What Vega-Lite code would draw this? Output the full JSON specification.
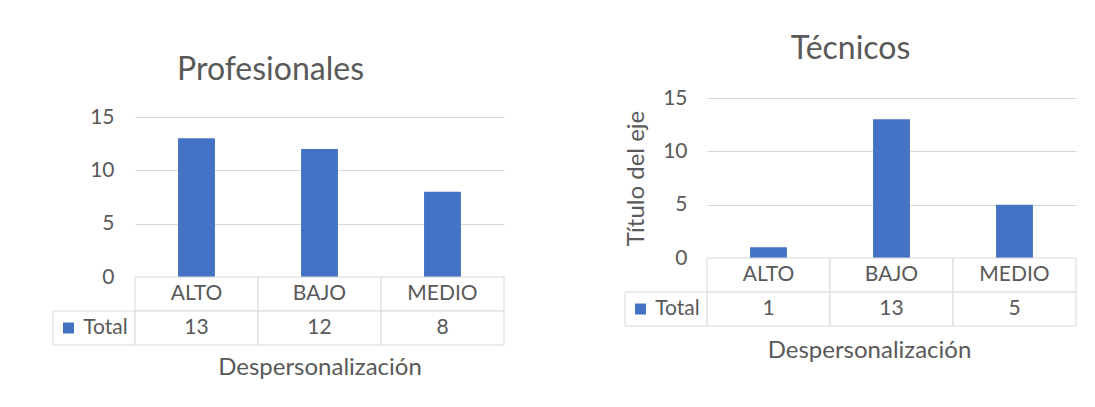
{
  "$schema": "https://vega.github.io/schema/vega-lite/v6.json",
  "background": "white",
  "padding": {"left": 52, "top": 33, "right": 5, "bottom": 0},
  "datasets": {
    "prof": [{"Nivel": "ALTO", "Total": 13}, {"Nivel": "BAJO", "Total": 12}, {"Nivel": "MEDIO", "Total": 8}],
    "tec": [{"Nivel": "ALTO", "Total": 1}, {"Nivel": "BAJO", "Total": 13}, {"Nivel": "MEDIO", "Total": 5}],
    "serie": [{"Serie": "Total"}]
  },
  "config": {
    "font": "Lato",
    "view": {"stroke": null},
    "title": {"font": "Lato", "fontSize": 32, "fontWeight": "normal", "color": "#595959", "anchor": "middle"},
    "axis": {"labelFont": "Lato", "titleFont": "Lato", "labelColor": "#595959", "titleColor": "#595959", "titleFontWeight": "normal", "labelFontSize": 21, "titleFontSize": 24},
    "text": {"font": "Lato", "fontSize": 21, "color": "#595959"}
  },
  "spacing": 119,
  "hconcat": [
    {
      "title": {"text": "Profesionales", "offset": 11, "dx": -8},
      "columns": 2,
      "spacing": 0,
      "bounds": "flush",
      "concat": [
        {"width": 82, "height": 19, "data": {"values": []}, "mark": "point", "encoding": {}},
        {"width": 369, "height": 19, "data": {"values": []}, "mark": "point", "encoding": {}},
        {"width": 82, "height": 160, "data": {"values": []}, "mark": "point", "encoding": {}},
        {
          "width": 369, "height": 160,
          "data": {"name": "prof"},
          "mark": {"type": "bar", "color": "#4472C4"},
          "encoding": {
            "x": {"field": "Nivel", "type": "nominal", "sort": null, "scale": {"paddingInner": 0.7, "paddingOuter": 0.35}, "axis": null},
            "y": {"field": "Total", "type": "quantitative", "scale": {"domain": [0, 15], "nice": false}, "axis": {"values": [0, 5, 10, 15], "title": null, "domain": false, "ticks": false, "labelPadding": 21, "gridColor": "#d9d9d9"}}
          }
        },
        {
          "width": 82, "height": 68,
          "data": {"name": "serie"},
          "encoding": {"y": {"datum": "Total", "type": "nominal", "scale": {"domain": ["cat", "Total"], "paddingInner": 0, "paddingOuter": 0}, "axis": null}},
          "layer": [
            {"mark": {"type": "rect", "fill": "white", "stroke": "#d9d9d9", "strokeWidth": 1}},
            {"mark": {"type": "point", "shape": "square", "filled": true, "size": 121, "color": "#4472C4", "opacity": 1},
             "encoding": {"x": {"datum": "sym", "type": "nominal", "scale": {"type": "point", "domain": ["sym", "lab"], "padding": 0.608, "align": 0.344}, "axis": null}}},
            {"mark": {"type": "text", "align": "center"},
             "encoding": {"x": {"datum": "lab", "type": "nominal"}, "text": {"field": "Serie"}}}
          ]
        },
        {
          "width": 369, "height": 68,
          "data": {"name": "prof"},
          "encoding": {
            "x": {"field": "Nivel", "type": "nominal", "sort": null, "scale": {"paddingInner": 0, "paddingOuter": 0}, "axis": {"title": "Despersonalización", "labels": false, "ticks": false, "domain": false, "titlePadding": 10}}
          },
          "layer": [
            {"mark": {"type": "rect", "fill": "white", "stroke": "#d9d9d9"}, "encoding": {"y": {"datum": "cat", "type": "nominal", "scale": {"domain": ["cat", "Total"], "paddingInner": 0, "paddingOuter": 0}, "axis": null}}},
            {"mark": {"type": "rect", "fill": "white", "stroke": "#d9d9d9"}, "encoding": {"y": {"datum": "Total", "type": "nominal"}}},
            {"mark": {"type": "text"}, "encoding": {"y": {"datum": "cat", "type": "nominal"}, "text": {"field": "Nivel"}}},
            {"mark": {"type": "text"}, "encoding": {"y": {"datum": "Total", "type": "nominal"}, "text": {"field": "Total"}}}
          ]
        }
      ]
    },
    {
      "title": {"text": "Técnicos", "offset": 21},
      "columns": 2,
      "spacing": 0,
      "bounds": "flush",
      "concat": [
        {"width": 82, "height": 160, "data": {"values": []}, "mark": "point", "encoding": {}},
        {
          "width": 369, "height": 160,
          "data": {"name": "tec"},
          "mark": {"type": "bar", "color": "#4472C4"},
          "encoding": {
            "x": {"field": "Nivel", "type": "nominal", "sort": null, "scale": {"paddingInner": 0.7, "paddingOuter": 0.35}, "axis": null},
            "y": {"field": "Total", "type": "quantitative", "scale": {"domain": [0, 15], "nice": false}, "axis": {"values": [0, 5, 10, 15], "title": "Título del eje", "titleFontSize": 24, "titlePadding": 14, "domain": false, "ticks": false, "labelPadding": 20, "gridColor": "#d9d9d9"}}
          }
        },
        {
          "width": 82, "height": 68,
          "data": {"name": "serie"},
          "encoding": {"y": {"datum": "Total", "type": "nominal", "scale": {"domain": ["cat", "Total"], "paddingInner": 0, "paddingOuter": 0}, "axis": null}},
          "layer": [
            {"mark": {"type": "rect", "fill": "white", "stroke": "#d9d9d9", "strokeWidth": 1}},
            {"mark": {"type": "point", "shape": "square", "filled": true, "size": 121, "color": "#4472C4", "opacity": 1},
             "encoding": {"x": {"datum": "sym", "type": "nominal", "scale": {"type": "point", "domain": ["sym", "lab"], "padding": 0.608, "align": 0.344}, "axis": null}}},
            {"mark": {"type": "text", "align": "center"},
             "encoding": {"x": {"datum": "lab", "type": "nominal"}, "text": {"field": "Serie"}}}
          ]
        },
        {
          "width": 369, "height": 68,
          "data": {"name": "tec"},
          "encoding": {
            "x": {"field": "Nivel", "type": "nominal", "sort": null, "scale": {"paddingInner": 0, "paddingOuter": 0}, "axis": {"title": "Despersonalización", "labels": false, "ticks": false, "domain": false, "titlePadding": 12, "titleX": 162}}
          },
          "layer": [
            {"mark": {"type": "rect", "fill": "white", "stroke": "#d9d9d9"}, "encoding": {"y": {"datum": "cat", "type": "nominal", "scale": {"domain": ["cat", "Total"], "paddingInner": 0, "paddingOuter": 0}, "axis": null}}},
            {"mark": {"type": "rect", "fill": "white", "stroke": "#d9d9d9"}, "encoding": {"y": {"datum": "Total", "type": "nominal"}}},
            {"mark": {"type": "text"}, "encoding": {"y": {"datum": "cat", "type": "nominal"}, "text": {"field": "Nivel"}}},
            {"mark": {"type": "text"}, "encoding": {"y": {"datum": "Total", "type": "nominal"}, "text": {"field": "Total"}}}
          ]
        }
      ]
    }
  ]
}
